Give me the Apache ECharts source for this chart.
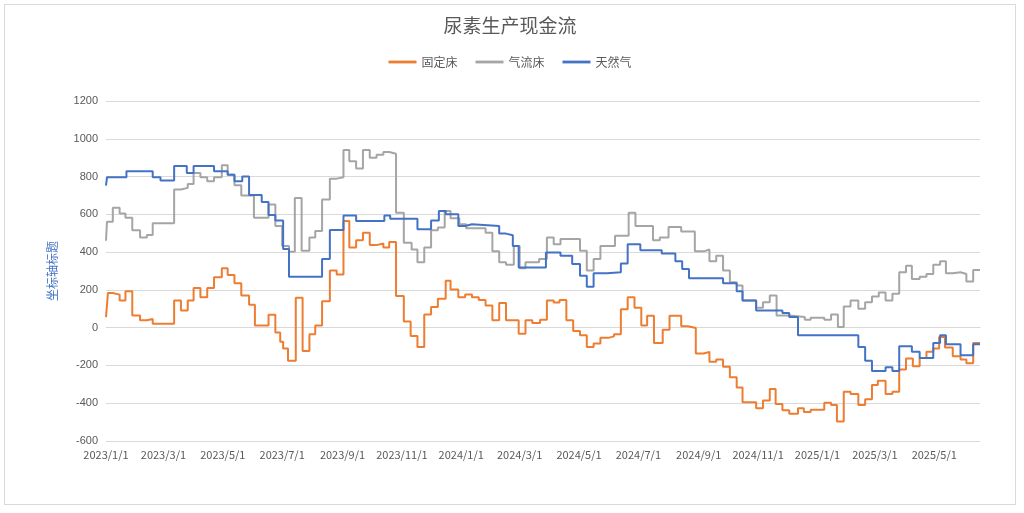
<!DOCTYPE html>
<html><head><meta charset="utf-8">
<script src="https://cdn.jsdelivr.net/npm/echarts@6/dist/echarts.min.js"></script>
<style>html,body{margin:0;background:#fff}#c{position:absolute;left:4px;top:4px;width:1012px;height:501px;border:1px solid #d9d9d9;box-sizing:border-box}</style>
</head><body><div id="c"></div>
<script>
// [day index since 2023-01-01, value] change points (step lines)
const fixedBed = [[0,56],[2,184],[7,175],[14,144],[20,193],[27,65],[35,39],[42,46],[48,21],[70,144],[77,91],[84,144],[90,210],[97,161],[104,210],[111,267],[119,314],[125,279],[132,235],[139,170],[147,121],[153,12],[167,68],[174,-26],[179,-75],[182,-110],[187,-175],[195,158],[202,-123],[209,-35],[215,12],[222,140],[230,302],[237,281],[244,565],[250,424],[257,463],[264,503],[271,437],[278,446],[285,424],[291,454],[298,167],[306,33],[313,-44],[320,-102],[327,70],[334,109],[341,153],[349,249],[354,202],[362,161],[369,175],[376,161],[383,147],[390,118],[397,39],[404,130],[411,39],[424,-32],[431,39],[438,25],[446,42],[453,144],[460,133],[466,147],[473,39],[480,-18],[487,-40],[494,-102],[501,-84],[508,-54],[516,-46],[522,-35],[529,98],[536,161],[543,105],[550,11],[556,63],[563,-81],[572,-11],[579,63],[591,7],[598,-2],[606,-137],[614,-128],[620,-181],[627,-168],[634,-207],[641,-263],[648,-317],[654,-395],[668,-426],[675,-386],[682,-325],[688,-404],[695,-437],[702,-456],[711,-426],[717,-447],[724,-435],[738,-397],[745,-409],[751,-497],[758,-339],[765,-351],[773,-409],[780,-379],[787,-304],[793,-281],[801,-351],[808,-339],[815,-221],[822,-163],[829,-204],[836,-160],[843,-128],[850,-110],[856,-49],[862,-105],[870,-151],[878,-168],[884,-189],[891,-81],[898,-81]];
const fluidBed = [[0,460],[1,561],[7,635],[14,605],[20,582],[27,516],[35,477],[42,491],[48,553],[70,732],[77,740],[84,761],[90,819],[97,796],[104,775],[111,796],[119,860],[125,810],[132,754],[139,700],[152,582],[167,652],[174,538],[181,433],[188,402],[194,687],[201,407],[209,477],[215,512],[222,679],[230,789],[237,796],[244,940],[250,881],[257,842],[264,940],[271,900],[278,916],[285,930],[291,921],[298,609],[306,449],[314,414],[320,346],[327,424],[334,516],[341,530],[348,617],[354,579],[363,547],[370,526],[390,503],[397,405],[404,346],[411,333],[419,433],[425,314],[431,346],[445,363],[453,477],[460,442],[467,470],[487,407],[494,302],[501,363],[508,433],[523,486],[537,609],[544,538],[562,463],[569,477],[578,533],[591,509],[605,405],[615,414],[620,351],[627,381],[634,302],[641,240],[648,223],[654,144],[668,105],[675,135],[682,170],[689,65],[702,56],[718,42],[724,53],[738,42],[745,70],[752,4],[758,112],[765,144],[773,100],[780,135],[787,165],[794,186],[801,144],[808,179],[815,293],[822,328],[828,258],[836,270],[843,284],[850,333],[857,351],[863,288],[870,293],[878,284],[884,245],[891,305],[898,305]];
const naturalGas = [[0,752],[1,796],[21,828],[48,796],[56,779],[70,856],[83,819],[90,856],[111,828],[125,810],[132,775],[140,800],[147,702],[160,665],[167,596],[174,568],[182,416],[188,270],[222,363],[230,517],[244,594],[257,565],[286,594],[292,577],[320,521],[334,568],[342,617],[349,600],[362,538],[369,547],[376,538],[404,498],[411,489],[418,433],[424,319],[452,398],[467,381],[479,337],[487,275],[494,217],[501,288],[515,293],[529,340],[536,442],[549,410],[571,393],[585,351],[592,310],[599,261],[634,235],[648,193],[654,144],[668,91],[695,77],[702,56],[711,-40],[773,-102],[780,-175],[787,-230],[801,-210],[808,-230],[815,-98],[828,-128],[836,-160],[850,-81],[857,-40],[863,-88],[878,-146],[891,-88],[898,-88]];
const seriesNames = ['固定床','气流床','天然气'];
const colors = ['#ED7D31','#A5A5A5','#4472C4'];

const start = new Date(2023,0,1);
const categories = [];
for (let i=0;i<=898;i++){const d=new Date(start.getTime()+i*86400000);categories.push(d.getFullYear()+'/'+(d.getMonth()+1)+'/'+d.getDate());}
function showLabel(i){const d=new Date(start.getTime()+i*86400000);return d.getDate()===1 && d.getMonth()%2===0;}

const chart = echarts.init(document.getElementById('c'));
chart.setOption({
  animation:false,
  title:{text:'尿素生产现金流',left:'center',top:6,textStyle:{fontSize:19,fontWeight:'normal',color:'#595959',fontFamily:'Noto Sans CJK SC'}},
  legend:{top:46,left:'center',icon:'path://M0,0 L30,0 L30,3 L0,3 Z',itemWidth:28,itemHeight:3,itemGap:18,textStyle:{color:'#595959',fontSize:12,fontFamily:'Noto Sans CJK SC'},data:seriesNames},
  grid:{left:101,right:35,top:96,bottom:63},
  xAxis:{type:'category',data:categories,boundaryGap:false,
    axisLine:{lineStyle:{color:'#d9d9d9'}},axisTick:{show:false},
    axisLabel:{interval:(i)=>showLabel(i),color:'#595959',fontSize:11,fontFamily:'Noto Sans CJK SC',margin:8}},
  yAxis:{type:'value',min:-600,max:1200,interval:200,name:'坐标轴标题',nameLocation:'middle',nameGap:48,
    nameTextStyle:{color:'#4472C4',fontSize:12,fontFamily:'Noto Sans CJK SC'},
    axisLabel:{color:'#595959',fontSize:11,formatter:(v)=>String(v)},axisLine:{show:false},axisTick:{show:false},
    splitLine:{lineStyle:{color:'#d9d9d9'}}},
  series:[fixedBed,fluidBed,naturalGas].map((d,k)=>({name:seriesNames[k],type:'line',step:'end',data:d,showSymbol:false,color:colors[k],lineStyle:{width:2,color:colors[k]}}))
});
</script></body></html>
